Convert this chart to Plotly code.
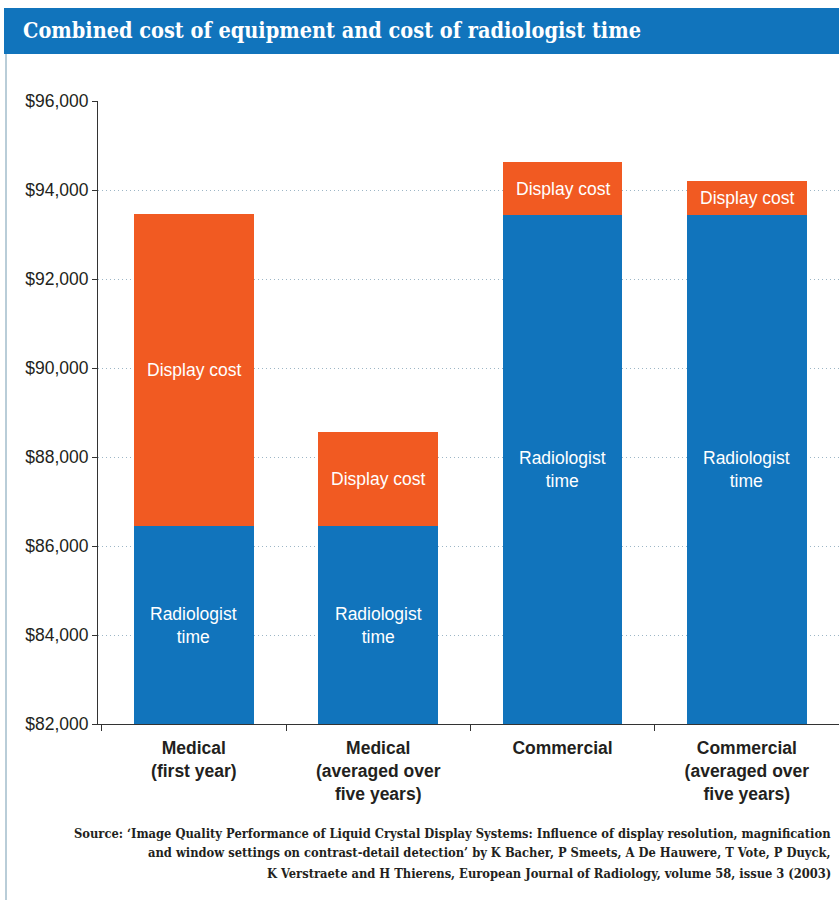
import plotly.graph_objects as go

# ---- data ----
categories = ["Medical<br>(first year)", "Medical<br>(averaged over<br>five years)",
              "Commercial", "Commercial<br>(averaged over<br>five years)"]
radiologist_time = [86440, 86440, 93440, 93440]
display_cost = [7010, 2130, 1180, 760]
y_min, y_max = 82000, 96000
y_ticks = [82000, 84000, 86000, 88000, 90000, 92000, 94000, 96000]
y_tick_labels = ["$82,000", "$84,000", "$86,000", "$88,000", "$90,000", "$92,000", "$94,000", "$96,000"]
title_text = "Combined cost of equipment and cost of radiologist time"
source_lines = [
    "Source: \u2018Image Quality Performance of Liquid Crystal Display Systems: Influence of display resolution, magnification",
    "and window settings on contrast-detail detection\u2019 by K Bacher, P Smeets, A De Hauwere, T Vote, P Duyck,",
    "K Verstraete and H Thierens, European Journal of Radiology, volume 58, issue 3 (2003)",
]

BLUE = "#1174BC"
ORANGE = "#F15A22"
TEXT = "#231f20"
W, H = 839, 900
ML, MR, MT, MB = 98, 0, 101, 176
PW, PH = W - ML - MR, H - MT - MB


def px2x(px):
    return (px - ML) / PW


def py2y(py):
    return (H - MB - py) / PH


fig = go.Figure()
fig.add_trace(go.Bar(x=categories, y=radiologist_time, name="Radiologist time",
                     marker=dict(color=BLUE, line=dict(width=0)), width=0.65))
fig.add_trace(go.Bar(x=categories, y=display_cost, name="Display cost",
                     marker=dict(color=ORANGE, line=dict(width=0)), width=0.65))

annotations = []
label_font = dict(family="Liberation Sans, Arial, sans-serif", size=17.5, color="white")
for cat, r, d in zip(categories, radiologist_time, display_cost):
    annotations.append(dict(x=cat, y=(y_min + r) / 2,
                            xref="x", yref="y", text="Radiologist<br>time", showarrow=False,
                            font=label_font, align="center"))
    annotations.append(dict(x=cat, y=r + d / 2, xref="x", yref="y", text="Display cost",
                            showarrow=False, font=label_font, align="center"))

# title
annotations.append(dict(x=px2x(21), y=py2y(31), xref="paper", yref="paper", xanchor="left",
                        yanchor="middle", text="<b>" + title_text + "</b>", showarrow=False,
                        font=dict(family="DejaVu Serif Condensed, DejaVu Serif, serif", size=21.5,
                                  color="white")))
# source
for i, line in enumerate(source_lines):
    annotations.append(dict(x=px2x(833), y=py2y(833 + 20 * i), xref="paper", yref="paper",
                            xanchor="right", yanchor="middle", text="<b>" + line + "</b>",
                            showarrow=False,
                            font=dict(family="DejaVu Serif Condensed, DejaVu Serif, serif",
                                      size=12.8, color=TEXT)))

shapes = [
    dict(type="rect", xref="paper", yref="paper", x0=px2x(4), x1=px2x(W + 2), y0=py2y(54),
         y1=py2y(8), fillcolor=BLUE, line=dict(width=0), layer="below"),
    dict(type="line", xref="paper", yref="paper", x0=px2x(6), x1=px2x(6), y0=py2y(54),
         y1=py2y(H + 5), line=dict(color="#b9cdd8", width=2)),
]

fig.update_layout(
    width=W, height=H,
    margin=dict(l=ML, r=MR, t=MT, b=MB, pad=0),
    barmode="stack",
    showlegend=False,
    plot_bgcolor="white", paper_bgcolor="white",
    annotations=annotations,
    shapes=shapes,
    font=dict(family="Liberation Sans, Arial, sans-serif", color=TEXT),
)
fig.update_xaxes(
    type="category", range=[-0.52, 3.50],
    showline=True, linecolor="#333333", linewidth=1,
    ticks="outside", tickson="boundaries", ticklen=6, tickcolor="#333333",
    ticklabelstandoff=8,
    showgrid=False,
    tickfont=dict(family="Liberation Sans, Arial, sans-serif", size=17.5, color=TEXT),
    tickprefix="<b>", ticksuffix="</b>",
)
fig.update_yaxes(
    range=[y_min, y_max], tickvals=y_ticks, ticktext=y_tick_labels,
    showline=True, linecolor="#333333", linewidth=1,
    ticks="outside", ticklen=5, tickcolor="#333333",
    showgrid=True, gridcolor="#9db6c6", griddash="1px,3px", gridwidth=1,
    zeroline=False,
    tickfont=dict(family="Liberation Sans, Arial, sans-serif", size=17.5, color=TEXT),
)

fig.write_html("out.html",
               config={"displayModeBar": False},
               post_script="document.body.style.margin='0';document.body.style.padding='0';"
                           "document.body.style.overflow='hidden';"
                           "document.documentElement.style.overflow='hidden';")
